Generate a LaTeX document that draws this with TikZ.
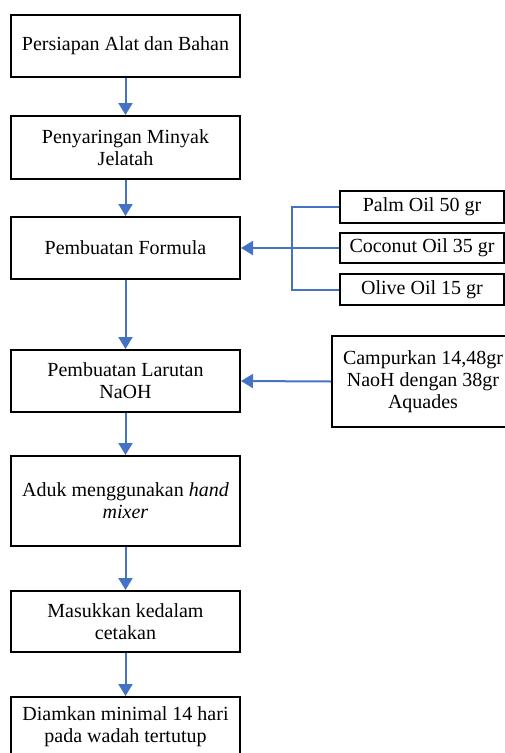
\documentclass[tikz,border=0pt]{standalone}
\usepackage{fontspec}
\setmainfont{Liberation Serif}
\usetikzlibrary{arrows.meta}
\definecolor{flowblue}{HTML}{4472C4}
\begin{document}
\begin{tikzpicture}[x=1pt,y=-1pt,
  boxstyle/.style={draw=black,line width=2pt,inner sep=0pt,align=center,
    font=\fontsize{20}{22}\selectfont,fill=white},
  mainbox/.style={boxstyle,minimum width=229pt},
  flowarrow/.style={draw=flowblue,line width=2pt,-{Triangle[width=14pt,length=12pt]}},
  flowline/.style={draw=flowblue,line width=2pt}]
\useasboundingbox (0,0) rectangle (505,753);
\node[mainbox,minimum height=62pt] (b1) at (125.5,46) {Persiapan Alat dan Bahan};
\node[mainbox,minimum height=63pt] (b2) at (125.5,147.5) {Penyaringan Minyak\\Jelatah};
\node[mainbox,minimum height=62pt] (b3) at (125.5,248) {Pembuatan Formula};
\node[mainbox,minimum height=62pt] (b4) at (125.5,381) {Pembuatan Larutan\\NaOH};
\node[mainbox,minimum height=90pt] (b5) at (125.5,501) {Aduk menggunakan \textit{hand}\\\textit{mixer}};
\node[mainbox,minimum height=61pt] (b6) at (125.5,621.5) {Masukkan kedalam\\cetakan};
\node[mainbox,minimum height=60pt] (b7) at (125.5,727) {Diamkan minimal 14 hari\\pada wadah tertutup};
\node[boxstyle,minimum width=164pt,minimum height=32pt] (palm) at (422,207) {Palm Oil 50 gr};
\node[boxstyle,minimum width=164pt,minimum height=30pt] (coco) at (422,248) {Coconut Oil 35 gr};
\node[boxstyle,minimum width=164pt,minimum height=31pt] (olive) at (422,289.5) {Olive Oil 15 gr};
\node[boxstyle,minimum width=182pt,minimum height=91pt] (campur) at (423,381.5) {Campurkan 14,48gr\\NaoH dengan 38gr\\Aquades};
\coordinate (join) at (292,248);
\draw[flowarrow] (b1) -- (b2);
\draw[flowarrow] (b2) -- (b3);
\draw[flowarrow] (b3) -- (b4);
\draw[flowarrow] (b4) -- (b5);
\draw[flowarrow] (b5) -- (b6);
\draw[flowarrow] (b6) -- (b7);
\draw[flowline] (palm.west) -| (join) |- (olive.west);
\draw[flowarrow] (coco.west) -- (b3.east);
\draw[flowarrow] (campur.west) -- (b4.east);
\end{tikzpicture}
\end{document}
